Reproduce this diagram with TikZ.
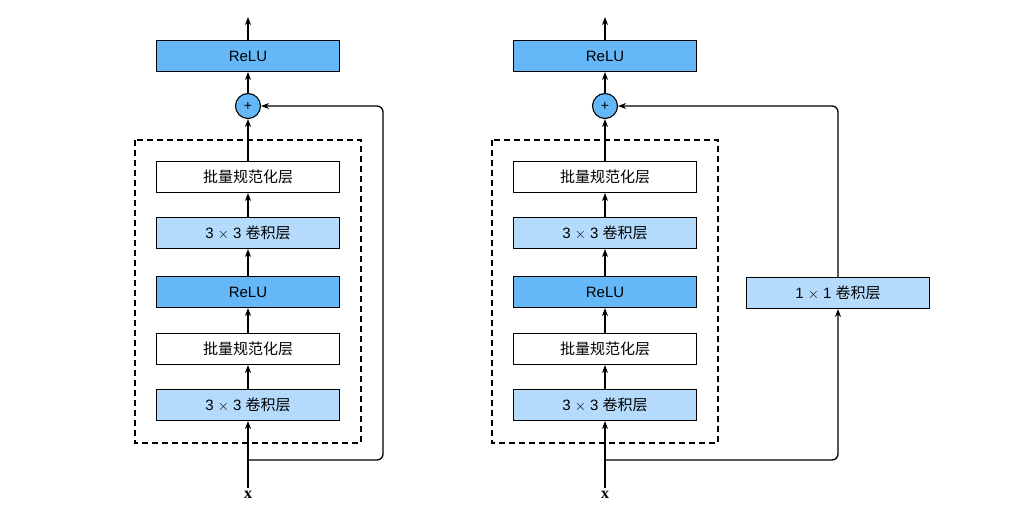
\documentclass[tikz,border=0pt]{standalone}
\usepackage{fontspec}
\setmainfont{Liberation Sans}
\newfontfamily\cjk{Noto Sans CJK SC}
\newfontfamily\serifx{Liberation Serif}
\usetikzlibrary{arrows.meta}
\definecolor{darkb}{HTML}{64B8F8}
\definecolor{lightb}{HTML}{B4DBFC}
\tikzset{
	layer/.style={draw, line width=1.1pt, minimum width=183pt, minimum height=31pt, inner sep=0pt, font=\fontsize{15}{18}\selectfont},
	relu/.style={layer, fill=darkb},
	conv/.style={layer, fill=lightb},
	bn/.style={layer, fill=white},
	add/.style={draw, line width=1.1pt, circle, fill=darkb, minimum size=25pt, inner sep=0pt, font=\fontsize{14}{16}\selectfont},
	flow/.style={-{Stealth[length=8pt,width=6pt]}, line width=1.3pt},
}
\begin{document}
\begin{tikzpicture}[x=1pt, y=-1pt]
	\useasboundingbox (0,0) rectangle (1034,529);

	% two residual blocks
	\foreach \c/\n in {248/l, 605/r} {
		\draw[line width=1.1pt, dash pattern=on 6pt off 4pt] (\c-113,140) rectangle (\c+113,443);
		\node[relu]	(relu\n)	at (\c,56)	{ReLU};
		\node[add]	(add\n)		at (\c,106)	{+};
		\node[bn]	(bnA\n)		at (\c,177)	{\cjk 批量规范化层};
		\node[conv]	(convA\n)	at (\c,233)	{3 $\times$ 3 \cjk 卷积层};
		\node[relu]	(reluB\n)	at (\c,292)	{ReLU};
		\node[bn]	(bnB\n)		at (\c,349)	{\cjk 批量规范化层};
		\node[conv]	(convB\n)	at (\c,405)	{3 $\times$ 3 \cjk 卷积层};
		\node		(x\n)		at (\c,495)	{\fontsize{16}{18}\serifx\bfseries x};
		\coordinate	(top\n)		at (\c,17);
		\coordinate	(split\n)	at (\c,460);

		\draw[flow] (relu\n) -- (top\n);
		\draw[flow] (add\n) -- (relu\n);
		\draw[flow] (bnA\n) -- (add\n);
		\draw[flow] (convA\n) -- (bnA\n);
		\draw[flow] (reluB\n) -- (convA\n);
		\draw[flow] (bnB\n) -- (reluB\n);
		\draw[flow] (convB\n) -- (bnB\n);
		\draw[flow] (x\n.north) -- (convB\n);
	}

	% skip connections
	\coordinate (skipl) at (383,106);
	\draw[flow, rounded corners=6pt] (splitl) -| (skipl) -- (addl);

	\node[conv] (conv1) at (838,293) {1 $\times$ 1 \cjk 卷积层};
	\coordinate (skipr) at (838,106);
	\draw[flow, rounded corners=6pt] (splitr) -| (conv1);
	\draw[flow, rounded corners=6pt] (conv1) -- (skipr) -- (addr);
\end{tikzpicture}
\end{document}
